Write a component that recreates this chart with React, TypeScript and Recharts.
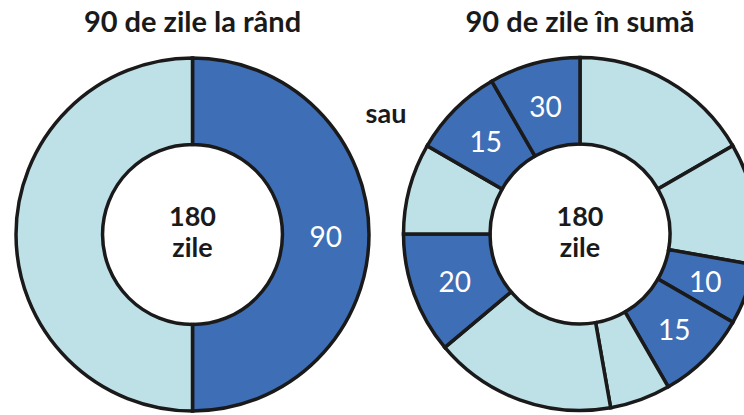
import React from 'react';
import { PieChart, Pie, Cell } from 'recharts';

// Left donut: 90 consecutive days out of 180
const leftDays = [90, 90];
const leftKinds = ['dark', 'light'];
const leftLabels = ['90', ''];

// Right donut: 90 days in total out of 180 (segments read clockwise from 12 o'clock)
const rightDays = [30, 20, 10, 15, 10, 30, 20, 15, 15, 15];
const rightKinds = ['light', 'light', 'dark', 'dark', 'light', 'light', 'dark', 'light', 'dark', 'dark'];
const rightLabels = ['', '', '10', '15', '', '', '20', '', '15', '30'];

const titles = ['90 de zile la rând', '90 de zile în sumă'];
const centerLines = ['180', 'zile'];
const orText = 'sau';

const COLORS: Record<string, string> = { dark: '#3E6EB6', light: '#BEE0E7' };
const STROKE = '#1a1a1a';
const FONT = 'Lato, "Open Sans", sans-serif';
const RAD = Math.PI / 180;

const leftData = leftDays.map((v, i) => ({ name: `L${i}`, value: v, kind: leftKinds[i], label: leftLabels[i] }));
const rightData = rightDays.map((v, i) => ({ name: `R${i}`, value: v, kind: rightKinds[i], label: rightLabels[i] }));

const L = { cx: 192.5, cy: 234.5 };
const R = { cx: 580, cy: 234 };
const INNER = 90;
const OUTER = 176.5;
const SW = 3.5;

const makeLabel = (labels: string[]) => (props: any) => {
  const { cx, cy, midAngle, innerRadius, outerRadius, index } = props;
  const text = labels[index];
  if (!text) return null;
  const r = (innerRadius + outerRadius) / 2;
  const x = cx + r * Math.cos(-midAngle * RAD);
  const y = cy + r * Math.sin(-midAngle * RAD);
  return (
    <text x={x} y={y + 12} textAnchor="middle" fill="#ffffff" fontFamily={FONT} fontSize={28} fontWeight={400}>
      {text}
    </text>
  );
};

export default function App() {
  return (
    <div style={{ position: 'absolute', left: 0, top: 0, width: 744, height: 415, overflow: 'hidden', background: '#ffffff' }}>
      <PieChart width={744} height={415} margin={{ top: 0, right: 0, bottom: 0, left: 0 }}>
        <Pie
          data={leftData}
          dataKey="value"
          cx={L.cx}
          cy={L.cy}
          innerRadius={INNER}
          outerRadius={OUTER}
          startAngle={90}
          endAngle={-270}
          stroke={STROKE}
          strokeWidth={SW}
          isAnimationActive={false}
          labelLine={false}
          label={makeLabel(leftLabels)}
        >
          {leftData.map((d) => (
            <Cell key={d.name} fill={COLORS[d.kind]} stroke={STROKE} strokeWidth={SW} />
          ))}
        </Pie>
        <Pie
          data={rightData}
          dataKey="value"
          cx={R.cx}
          cy={R.cy}
          innerRadius={INNER}
          outerRadius={OUTER}
          startAngle={90}
          endAngle={-270}
          stroke={STROKE}
          strokeWidth={SW}
          isAnimationActive={false}
          labelLine={false}
          label={makeLabel(rightLabels)}
        >
          {rightData.map((d) => (
            <Cell key={d.name} fill={COLORS[d.kind]} stroke={STROKE} strokeWidth={SW} />
          ))}
        </Pie>
      </PieChart>
      <svg width={744} height={415} style={{ position: 'absolute', left: 0, top: 0, pointerEvents: 'none' }}>
        <text x={L.cx} y={32} textAnchor="middle" fill="#1a1a1a" fontFamily={FONT} fontWeight={700} fontSize={29}>{titles[0]}</text>
        <text x={R.cx} y={32} textAnchor="middle" fill="#1a1a1a" fontFamily={FONT} fontWeight={700} fontSize={29}>{titles[1]}</text>
        <text x={386} y={123} textAnchor="middle" fill="#1a1a1a" fontFamily={FONT} fontWeight={700} fontSize={27}>{orText}</text>
        {[L, R].map((c, k) => (
          <g key={k}>
            <text x={c.cx} y={226} textAnchor="middle" fill="#1a1a1a" fontFamily={FONT} fontWeight={700} fontSize={27}>{centerLines[0]}</text>
            <text x={c.cx} y={257} textAnchor="middle" fill="#1a1a1a" fontFamily={FONT} fontWeight={700} fontSize={27}>{centerLines[1]}</text>
          </g>
        ))}
      </svg>
    </div>
  );
}
